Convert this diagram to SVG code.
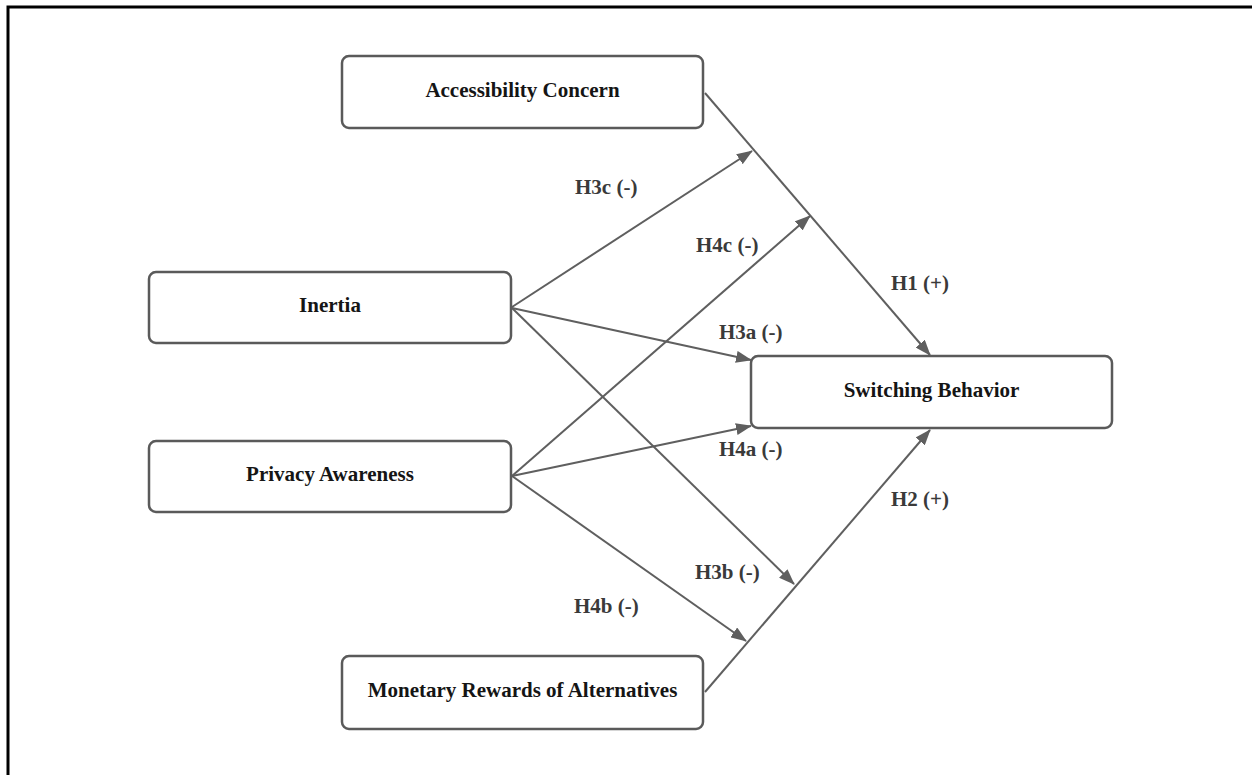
<svg xmlns="http://www.w3.org/2000/svg" width="1252" height="775" viewBox="0 0 1252 775">
<defs>
<style>
.node rect{fill:#ffffff;stroke:#5a5a5a;stroke-width:2.5}
.node text{font-family:"Liberation Serif","Times New Roman",serif;font-weight:bold;font-size:21px;fill:#151515;text-anchor:middle}
.conn line{stroke:#5f5f5f;stroke-width:2;marker-end:url(#arr)}
.lbl{font-family:"Liberation Serif","Times New Roman",serif;font-weight:bold;font-size:21px;fill:#3a3a3a}
</style>
<marker id="arr" markerUnits="userSpaceOnUse" markerWidth="16" markerHeight="12" refX="15" refY="6" orient="auto">
<path d="M0,0 L16,6 L0,12 Z" fill="#5f5f5f"/>
</marker>
</defs>
<rect x="0" y="0" width="1252" height="775" fill="#ffffff"/>
<rect x="8" y="7" width="1300" height="820" fill="none" stroke="#000000" stroke-width="3"/>
<g id="connectors" class="conn">
<line x1="705" y1="93" x2="930" y2="355"/>
<line x1="705" y1="692" x2="930" y2="430"/>
<line x1="512" y1="307" x2="752" y2="151"/>
<line x1="512" y1="476" x2="810" y2="216"/>
<line x1="512" y1="308" x2="751" y2="360"/>
<line x1="512" y1="476" x2="751" y2="426"/>
<line x1="512" y1="308" x2="794" y2="584"/>
<line x1="512" y1="476" x2="746" y2="641"/>
</g>
<g id="labels">
<text class="lbl" x="575" y="194">H3c (-)</text>
<text class="lbl" x="696" y="252">H4c (-)</text>
<text class="lbl" x="891" y="290">H1 (+)</text>
<text class="lbl" x="719" y="339">H3a (-)</text>
<text class="lbl" x="719" y="456">H4a (-)</text>
<text class="lbl" x="891" y="506">H2 (+)</text>
<text class="lbl" x="695" y="579">H3b (-)</text>
<text class="lbl" x="574" y="613">H4b (-)</text>
</g>
<g id="accessibility" class="node">
<rect x="342" y="56" width="361" height="72" rx="7"/>
<text x="522.5" y="97">Accessibility Concern</text>
</g>
<g id="inertia" class="node">
<rect x="149" y="272" width="362" height="71" rx="7"/>
<text x="330" y="312">Inertia</text>
</g>
<g id="switching" class="node">
<rect x="751" y="356" width="361" height="72" rx="7"/>
<text x="931.5" y="397">Switching Behavior</text>
</g>
<g id="privacy" class="node">
<rect x="149" y="441" width="362" height="71" rx="7"/>
<text x="330" y="481">Privacy Awareness</text>
</g>
<g id="monetary" class="node">
<rect x="342" y="656" width="361" height="73" rx="7"/>
<text x="522.5" y="697">Monetary Rewards of Alternatives</text>
</g>
</svg>
